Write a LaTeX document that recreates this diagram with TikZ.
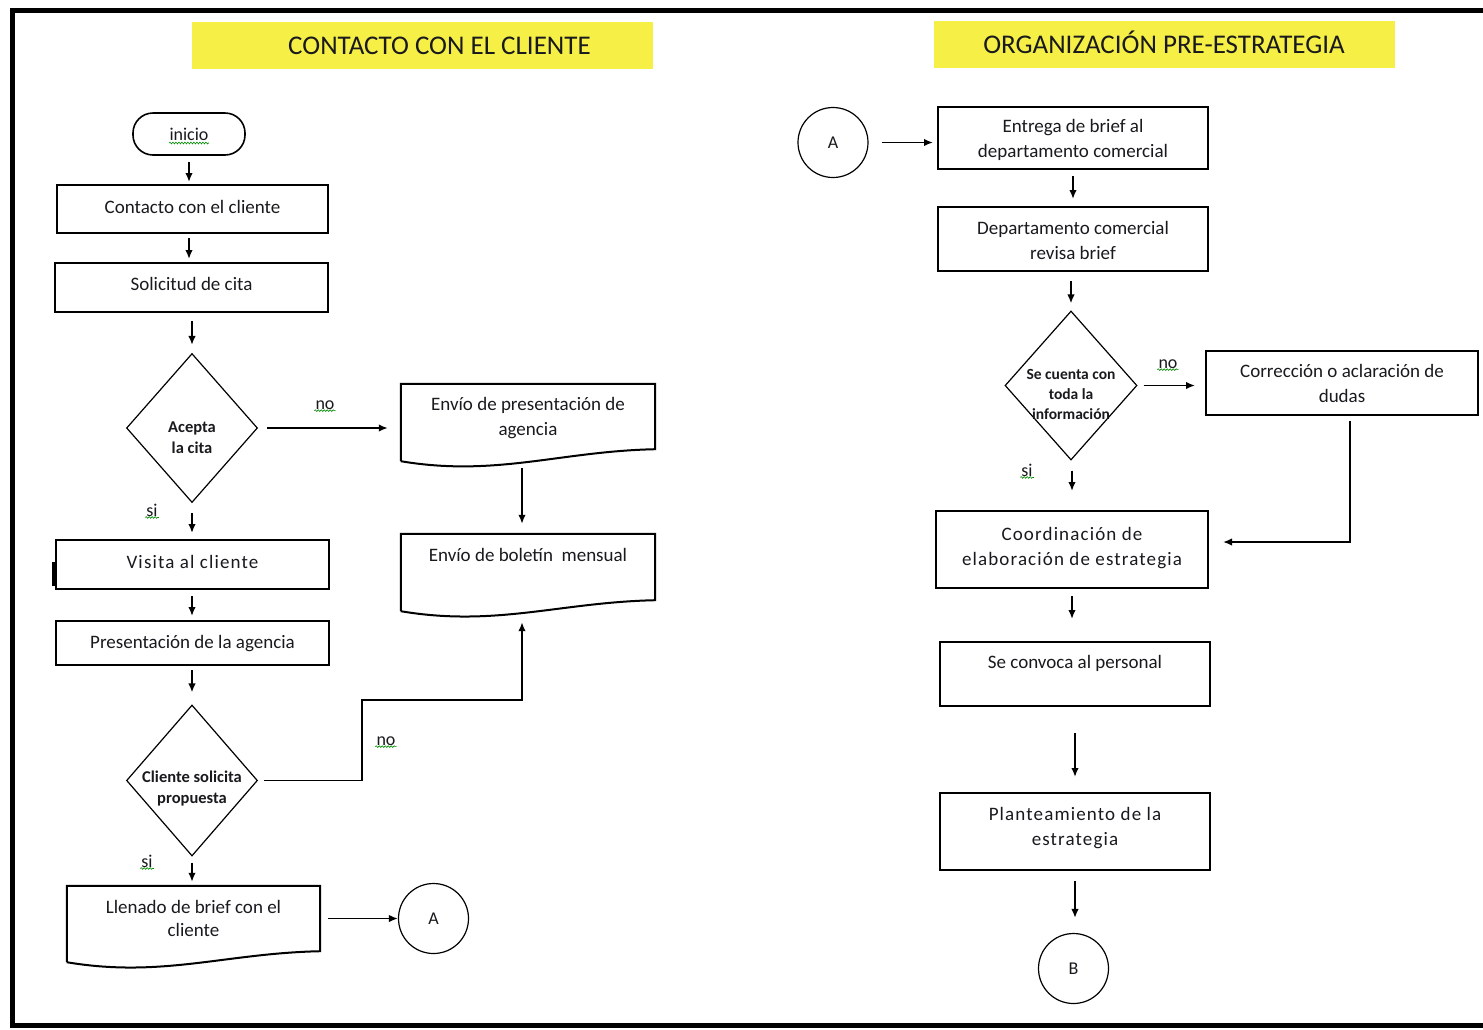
\documentclass[tikz,border=0pt]{standalone}
\usepackage{fontspec}
\setmainfont{Carlito}
\newfontfamily\spacedfont[LetterSpace=6]{Carlito}
\usetikzlibrary{shapes.geometric,arrows.meta,decorations.pathmorphing}
\definecolor{titley}{RGB}{246,240,70}
\definecolor{ink}{RGB}{25,25,30}
\tikzset{
  every node/.style={text=ink},
  box/.style={draw=black,line width=2pt,rectangle,inner sep=0pt},
  docbox/.style={rectangle,inner sep=0pt},
  docline/.style={draw=black,line width=2pt},
  decision/.style={draw=black,line width=1.2pt,diamond,inner sep=0pt},
  tl/.style={anchor=center,align=center,inner sep=0pt,text=ink,font=\fontsize{19}{25}\selectfont},
  tls/.style={anchor=center,align=center,inner sep=0pt,text=ink,font=\spacedfont\fontsize{19}{25}\selectfont},
  tld/.style={anchor=center,align=center,inner sep=0pt,text=ink,font=\fontsize{16.5}{21}\selectfont\bfseries},
  conn/.style={draw=black,line width=1.2pt,ellipse,inner sep=0pt,
    minimum width=70pt,minimum height=70pt,font=\fontsize{18}{20}\selectfont},
  flow/.style={draw=black,line width=1.7pt,-{Latex[length=9pt,width=7.5pt]}},
  lbl/.style={font=\fontsize{18}{20}\selectfont,inner sep=1pt},
  squig/.style={draw=green!55!black,line width=0.6pt,decorate,
    decoration={snake,amplitude=0.9pt,segment length=3pt}},
  title/.style={fill=titley,minimum width=461pt,minimum height=47pt,inner sep=0pt},
  titletext/.style={anchor=center,inner sep=0pt,text=ink,
    font=\fontsize{27}{30}\selectfont,text height=17.4pt,text depth=0pt}
}
\begin{document}
\begin{tikzpicture}[x=1pt,y=-1pt]
\useasboundingbox (0,0) rectangle (1483,1029);
\fill[white] (0,0) rectangle (1483,1029);
% frame
\draw[line width=5pt] (1490,10) -- (12,10) -- (12,1025) -- (1490,1025);

% titles
\node[title,label={[titletext,xshift=17pt]center:CONTACTO CON EL CLIENTE}] (t1) at (422.5,45.5) {};
\node[title,label={[titletext]center:ORGANIZACIÓN PRE-ESTRATEGIA}] (t2) at (1164,44.5) {};

% ---------- left column ----------
\node[draw=black,line width=1.6pt,rounded corners=20pt,minimum width=112pt,minimum height=42pt,
  inner sep=1pt,font=\fontsize{18}{20}\selectfont] (ini) at (189,134) {inicio};
\node[box,minimum width=271pt,minimum height=48pt,
  label={[tl,yshift=2pt]center:Contacto con el cliente}] (c1) at (192.5,209) {};
\node[box,minimum width=273pt,minimum height=49pt,
  label={[tl,yshift=3.5pt]center:Solicitud de cita}] (c2) at (191.5,287.5) {};
\node[decision,minimum width=131pt,minimum height=149pt,
  label={[tld,yshift=-10pt]center:{Acepta\\la cita}}] (d1) at (192,428) {};
\node[docbox,minimum width=254pt,minimum height=81pt,
  label={[tl,yshift=6pt]center:{Envío de presentación de\\agencia}}] (e1) at (528,424.5) {};
\node[docbox,minimum width=254pt,minimum height=81pt,
  label={[tl,yshift=20pt]center:{Envío de boletín\ \ mensual}}] (e2) at (528,574.5) {};
\node[box,minimum width=273pt,minimum height=49pt,
  label={[tls,yshift=2.5pt]center:Visita al cliente}] (c3) at (192.5,564.5) {};
\node[box,minimum width=273pt,minimum height=44pt,
  label={[tl,yshift=-0.5pt]center:Presentación de la agencia}] (c4) at (192.5,643) {};
\node[decision,minimum width=131pt,minimum height=151pt,
  label={[tld,yshift=-7.5pt]center:{Cliente solicita\\propuesta}}] (d2) at (192,780.5) {};
\node[docbox,minimum width=253pt,minimum height=80pt,
  label={[tl,yshift=8pt,font=\fontsize{19}{23}\selectfont]center:{Llenado de brief con el\\cliente}}] (ll) at (193.5,926) {};
\node[conn] (ca) at (433.5,918.5) {A};

% document shapes
\draw[docline] ([yshift=4pt]e1.south west) -- (e1.north west) -- (e1.north east) -- ([yshift=16pt]e1.south east)
  .. controls ([xshift=-95pt,yshift=14pt]e1.south east) and ([xshift=95pt,yshift=-12pt]e1.south west) .. ([yshift=4pt]e1.south west);
\draw[docline] ([yshift=4pt]e2.south west) -- (e2.north west) -- (e2.north east) -- ([yshift=15pt]e2.south east)
  .. controls ([xshift=-95pt,yshift=13pt]e2.south east) and ([xshift=95pt,yshift=-12pt]e2.south west) .. ([yshift=4pt]e2.south west);
\draw[docline] ([yshift=4pt]ll.south west) -- (ll.north west) -- (ll.north east) -- ([yshift=15pt]ll.south east)
  .. controls ([xshift=-95pt,yshift=13pt]ll.south east) and ([xshift=95pt,yshift=-12pt]ll.south west) .. ([yshift=4pt]ll.south west);
% small thick mark at left of Visita
\fill[black] (52,562) rectangle (57,586);

% left connectors
\draw[flow] ([yshift=-6pt]ini.south) -- ([yshift=2pt]ini.south |- c1.north);
\draw[flow] ([yshift=-4pt]c1.south -| ini.south) -- ([yshift=3pt]ini.south |- c2.north);
\draw[flow] ([yshift=-8pt]c2.south -| d1.north) -- ([yshift=8pt]d1.north);
\draw[flow] ([xshift=9pt]d1.east) -- ([xshift=-13pt]d1.east -| e1.west);
\node[lbl] (no1) at (325,405) {no};
\draw[flow] ([xshift=-6pt,yshift=-3pt]e1.south) -- ([xshift=-6pt,yshift=10pt]e2.north);
\draw[flow] ([yshift=-10pt]d1.south) -- ([yshift=6pt]d1.south |- c3.north);
\node[lbl] (si1) at (152,510) {si};
\draw[flow] ([yshift=-6pt]d1.south |- c3.south) -- ([yshift=4pt]d1.south |- c4.north);
\draw[flow] ([yshift=-4pt]d1.south |- c4.south) -- ([yshift=12pt]d2.north);
\coordinate (k2) at (362,700);
\draw[flow] ([xshift=6pt]d2.east) -| (k2) -| ([xshift=-6pt,yshift=-7pt]e2.south);
\node[lbl] (no2) at (386,741) {no};
\draw[flow] ([yshift=-6pt]d2.south) -- ([yshift=4pt]d2.south |- ll.north);
\node[lbl] (si2) at (147,861) {si};
\draw[flow] ([xshift=8pt]ll.east |- ca.west) -- (ca.west);

% ---------- right column ----------
\node[conn] (cA) at (833,142.5) {A};
\node[box,minimum width=270pt,minimum height=62pt,
  label={[tl,yshift=-1.5pt]center:{Entrega de brief al\\departamento comercial}}] (r1) at (1073,138) {};
\node[box,minimum width=270pt,minimum height=64pt,
  label={[tl,yshift=-1.5pt]center:{Departamento comercial\\revisa brief}}] (r2) at (1073,239) {};
\node[decision,minimum width=132pt,minimum height=149pt,
  label={[tld,yshift=-8.5pt,font=\fontsize{15.5}{20}\selectfont\bfseries]center:{Se cuenta con\\toda la\\información}}] (d3) at (1071,385.5) {};
\node[box,minimum width=272pt,minimum height=64pt,
  label={[tl,yshift=-0.5pt]center:{Corrección o aclaración de\\dudas}}] (r3) at (1342,383) {};
\node[box,minimum width=272pt,minimum height=77pt,
  label={[tls,yshift=1pt]center:{Coordinación de\\elaboración de estrategia}}] (r4) at (1072,549.5) {};
\node[box,minimum width=270pt,minimum height=64pt,
  label={[tl,yshift=10.5pt]center:Se convoca al personal}] (r5) at (1075,674) {};
\node[box,minimum width=270pt,minimum height=77pt,
  label={[tls,yshift=3pt]center:{Planteamiento de la\\estrategia}}] (r6) at (1075,831.5) {};
\node[conn] (cB) at (1073.5,968.5) {B};

% right connectors
\draw[flow] ([xshift=13pt]cA.east) -- ([xshift=-4pt]cA.east -| r1.west);
\draw[flow] ([yshift=-6pt]r1.south) -- ([yshift=7pt]r2.north);
\draw[flow] ([yshift=-9pt]r2.south -| d3.north) -- ([yshift=7pt]d3.north);
\draw[flow] ([xshift=6pt]d3.east) -- ([xshift=-10pt]d3.east -| r3.west);
\node[lbl] (no3) at (1168,364) {no};
\draw[flow] ([yshift=-10pt]d3.south -| r4.north) -- ([yshift=19pt]r4.north);
\node[lbl] (si3) at (1027,470) {si};
\coordinate (k3) at (1350,542);
\draw[flow] ([yshift=-5pt]r3.south -| k3) -- (k3) -- ([xshift=14pt]r4.east |- k3);
\draw[flow] ([yshift=-7pt]r4.south) -- ([yshift=22pt]r4.south |- r5.north);
\draw[flow] ([yshift=-26pt]r5.south) -- ([yshift=15pt]r6.north);
\draw[flow] ([yshift=-10pt]r6.south) -- ([yshift=15pt]r6.south |- cB.north);

% spell-check squiggles
\foreach \n in {no1,no2,no3,si1,si2,si3}
  \draw[squig] (\n.south west) -- (\n.south east);
\draw[squig] ([xshift=-20pt,yshift=-9pt]ini.center) -- ([xshift=20pt,yshift=-9pt]ini.center);
\end{tikzpicture}
\end{document}
